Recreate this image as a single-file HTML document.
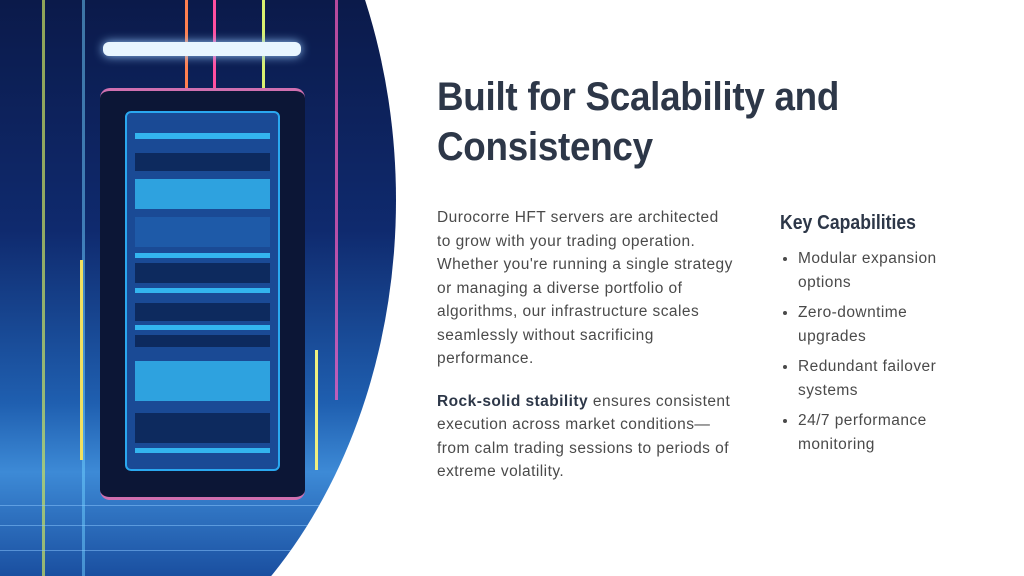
<!DOCTYPE html>
<html><head><style>
body{margin:0;width:1024px;height:576px;background:#fff;overflow:hidden;position:relative;font-family:"Liberation Sans",sans-serif}
#img{position:absolute;left:0;top:0;width:400px;height:576px;clip-path:ellipse(396px 516px at 0 200px);
background:linear-gradient(180deg,#0b1a4a 0%,#0f2a6e 40%,#1f5fb0 70%,#3d8ad6 82%,#1a4fa0 100%)}
.v{position:absolute;top:0;width:3px}
.g{position:absolute;left:0;width:400px;height:1px;background:rgba(140,200,255,.5)}
#rack{position:absolute;left:100px;top:88px;width:205px;height:412px;background:#0c1636;border-radius:10px;border-top:3px solid #d070b0;border-bottom:3px solid #d070b0;box-sizing:border-box}
#glass{position:absolute;left:25px;top:20px;width:155px;height:360px;background:#1a4a95;border:2px solid #2aa8f0;border-radius:6px;box-sizing:border-box}
.u{position:absolute;left:8px;width:135px;background:#38c8ff;opacity:.85}
.d{position:absolute;left:8px;width:135px;background:#0d2a5e}
#t{position:absolute;left:437px;top:72px;color:#2d3748;font-weight:bold;font-size:40px;line-height:50px;transform:scaleX(.92);transform-origin:left top;white-space:nowrap;letter-spacing:-.3px}
#p{position:absolute;left:437px;top:206px;width:298px;color:#4a4a4a;font-size:15.5px;letter-spacing:.45px;line-height:23.5px}
#k{position:absolute;left:780px;top:212px;color:#2d3748;font-weight:bold;font-size:20px;transform:scaleX(.88);transform-origin:left top;white-space:nowrap}
ul{position:absolute;left:780px;top:247px;margin:0;padding:0 0 0 18px;width:160px;color:#4a4a4a;font-size:15.5px;letter-spacing:.45px;line-height:24px}
li{margin-bottom:6px;padding-left:0}
</style></head><body>
<div id="img">
<div class="v" style="left:42px;height:576px;background:#c8e060;opacity:.7"></div>
<div class="v" style="left:82px;height:576px;background:#70d0ff;opacity:.5"></div>
<div class="v" style="left:185px;height:90px;background:#ff8050"></div>
<div class="v" style="left:213px;height:90px;background:#ff50a0"></div>
<div class="v" style="left:262px;height:90px;background:#d8f070"></div>
<div class="v" style="left:335px;height:400px;background:#ff60c0;opacity:.7"></div>
<div class="v" style="left:315px;top:350px;height:120px;background:#f0f080"></div>
<div class="v" style="left:80px;top:260px;height:200px;background:#f0e060"></div>
<div style="position:absolute;left:103px;top:42px;width:198px;height:14px;background:#e8f6ff;border-radius:6px;box-shadow:0 0 10px #9cf"></div>
<div class="g" style="top:505px"></div><div class="g" style="top:525px"></div><div class="g" style="top:550px"></div>
<div id="rack"><div id="glass">
<div class="u" style="top:20px;height:6px"></div>
<div class="d" style="top:40px;height:18px"></div>
<div class="u" style="top:66px;height:30px;opacity:.7"></div>
<div class="d" style="top:104px;height:30px;background:#1e5aa8"></div>
<div class="u" style="top:140px;height:5px"></div>
<div class="d" style="top:150px;height:20px"></div>
<div class="u" style="top:175px;height:5px"></div>
<div class="d" style="top:190px;height:18px"></div>
<div class="u" style="top:212px;height:5px"></div>
<div class="d" style="top:222px;height:12px"></div>
<div class="u" style="top:248px;height:40px;opacity:.7"></div>
<div class="d" style="top:300px;height:30px"></div>
<div class="u" style="top:335px;height:5px"></div>
</div></div>
</div>
<div id="t">Built for Scalability and<br>Consistency</div>
<div id="p">Durocorre HFT servers are architected to grow with your trading operation. Whether you're running a single strategy or managing a diverse portfolio of algorithms, our infrastructure scales seamlessly without sacrificing performance.<div style="height:19px"></div><b style="color:#2d3748">Rock-solid stability</b> ensures consistent execution across market conditions—from calm trading sessions to periods of extreme volatility.</div>
<div id="k">Key Capabilities</div>
<ul><li>Modular expansion options</li><li>Zero-downtime upgrades</li><li>Redundant failover systems</li><li>24/7 performance monitoring</li></ul>
</body></html>
